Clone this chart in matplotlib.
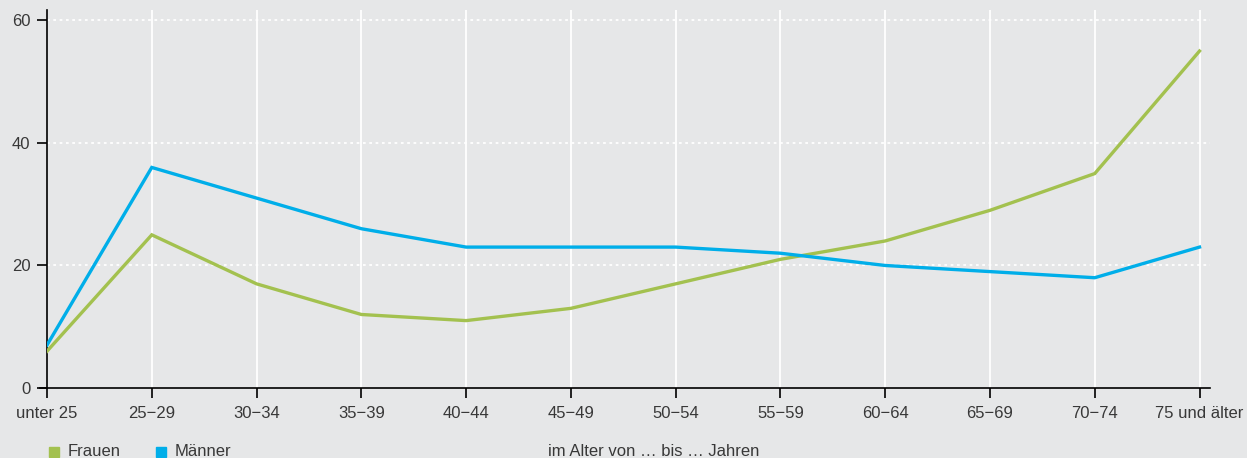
import matplotlib.pyplot as plt
from matplotlib.patches import Rectangle

# Werte
kategorien = ["unter 25", "25\u221229", "30\u221234", "35\u221239", "40\u221244", "45\u221249",
              "50\u221254", "55\u221259", "60\u221264", "65\u221269", "70\u221274", "75 und älter"]
frauen = [6, 25, 17, 12, 11, 13, 17, 21, 24, 29, 35, 55]
maenner = [7, 36, 31, 26, 23, 23, 23, 22, 20, 19, 18, 23]
y_ticks = [0, 20, 40, 60]

BG = "#e6e7e8"
GRUEN = "#a3c14f"
BLAU = "#00aee9"
TXT = "#383838"

plt.rcParams["font.family"] = ["Liberation Sans", "DejaVu Sans"]

fig = plt.figure(figsize=(12.47, 4.58), dpi=100, facecolor=BG)
ax = fig.add_axes([47 / 1247, 1 - 388 / 458, (1210 - 47) / 1247, (388 - 10) / 458])
ax.set_facecolor(BG)

x = list(range(len(kategorien)))

# Gitter: senkrecht durchgezogen, waagerecht gepunktet
for xi in x[1:]:
    ax.axvline(xi, color="white", lw=1.3, zorder=1)
for yt in y_ticks[1:]:
    ax.axhline(yt, color="white", lw=1.3, ls=(0, (1.5, 2)), zorder=1)

ax.plot(x, frauen, color=GRUEN, lw=2.4, zorder=3, solid_joinstyle="miter")
ax.plot(x, maenner, color=BLAU, lw=2.4, zorder=3, solid_joinstyle="miter")

ax.set_xlim(0, 11.1)
ax.set_ylim(0, 61.7)
ax.set_xticks(x)
ax.set_xticklabels(kategorien, fontsize=12, color=TXT)
ax.set_yticks(y_ticks)
ax.set_yticklabels([str(v) for v in y_ticks], fontsize=12, color=TXT)

for s in ["top", "right"]:
    ax.spines[s].set_visible(False)
ax.spines["left"].set_linewidth(1.2)
ax.spines["bottom"].set_linewidth(1.2)
ax.spines["bottom"].set_bounds(-0.07, 11.1)
ax.tick_params(axis="both", direction="out", length=7, width=1.2, pad=5, colors="black", labelcolor=TXT)
ax.tick_params(axis="x", pad=6)

# Legende unten
for xp, farbe, label in [(49, GRUEN, "Frauen"), (156, BLAU, "Männer")]:
    fig.patches.append(Rectangle((xp / 1247, 1 - 457 / 458), 10 / 1247, 10 / 458,
                                 transform=fig.transFigure, color=farbe))
    fig.text((xp + 19) / 1247, 1 - 452 / 458, label, fontsize=12, color=TXT, va="center")

fig.text(548 / 1247, 1 - 452 / 458, "im Alter von \u2026 bis \u2026 Jahren", fontsize=12, color=TXT, va="center")

fig.savefig("out.png", dpi=100, facecolor=BG)
